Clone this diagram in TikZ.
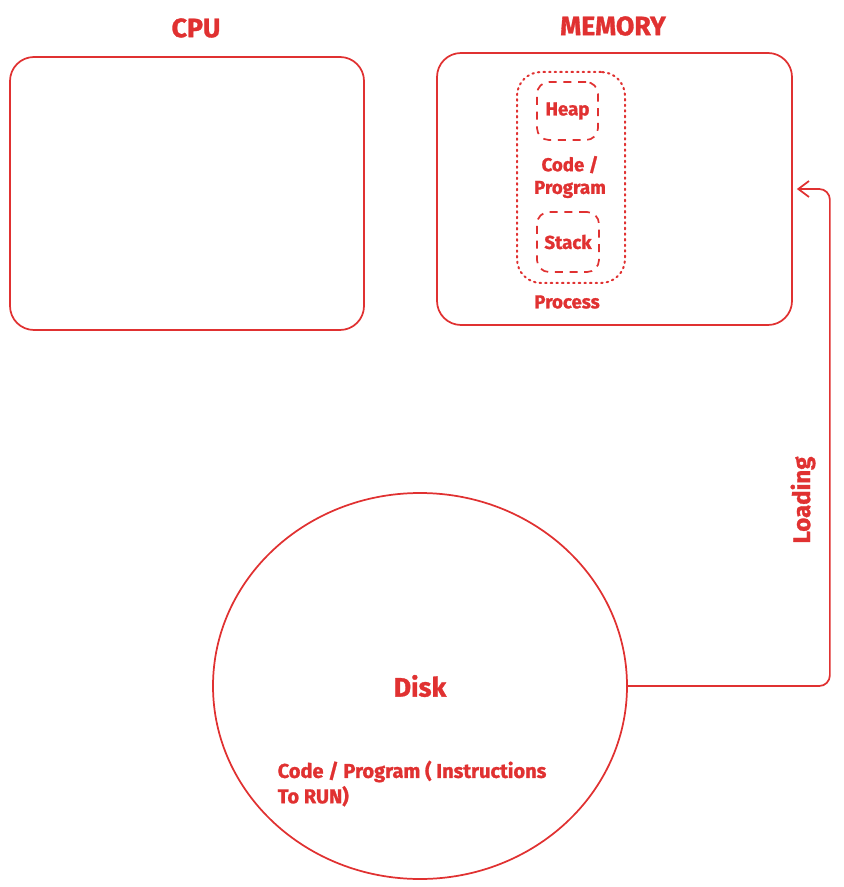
\documentclass[tikz,border=0pt]{standalone}
\usepackage{fontspec}
\setmainfont{Fira Sans}[BoldFeatures={FakeBold=1.2}]
\usetikzlibrary{shapes.geometric,arrows.meta}
\definecolor{sketchred}{HTML}{E03131}
\begin{document}
\begin{tikzpicture}[x=0.75pt, y=-0.75pt, >=stealth,
    every node/.style={text=sketchred, font=\bfseries},
    box/.style={draw=sketchred, line width=1.3pt, rounded corners=18pt, inner sep=0pt},
    partbox/.style={draw=sketchred, line width=1.3pt, dash pattern=on 6pt off 5pt, rounded corners=9pt, inner sep=0pt},
    title/.style={font=\bfseries\fontsize{20}{24}\selectfont},
    small/.style={font=\bfseries\fontsize{14}{17}\selectfont}]
    \useasboundingbox (0,0) rectangle (843,887);
    % boxes
    \node[box, minimum width=265.5pt, minimum height=204.75pt] (cpu) at (187,193.5) {};
    \node[box, minimum width=266.25pt, minimum height=204pt] (mem) at (614.5,189) {};
    \node[draw=sketchred, line width=1.5pt, dash pattern=on 1.2pt off 3pt, line cap=round,
        rounded corners=18pt, minimum width=81pt, minimum height=158.25pt] (proc) at (571,177.5) {};
    \node[partbox, small, minimum width=45.75pt, minimum height=43.5pt] (heap) at (567.5,111) {Heap};
    \node[partbox, small, minimum width=46.5pt, minimum height=45pt] (stack) at (568,242) {Stack};
    \node[draw=sketchred, line width=1.3pt, ellipse, inner sep=0pt, title,
        minimum width=310.5pt, minimum height=289.5pt] (disk) at (420,686) {Disk};
    % labels
    \node[title] (cpulbl) at (196,28) {CPU};
    \node[title] (memlbl) at (613,26) {MEMORY};
    \node[small, align=center] (code) at (570,177) {Code /\\Program};
    \node[small] (proclbl) at (567,302) {Process};
    \node[small, align=left, anchor=north west, font=\bfseries\fontsize{15}{19}\selectfont] (instr) at (273,756)
        {Code / Program ( Instructions\\To RUN)};
    \node[title, rotate=90, font=\bfseries\fontsize{18}{22}\selectfont] (load) at (803,500) {Loading};
    % loading arrow
    \draw[draw=sketchred, line width=1.3pt, rounded corners=8pt, -{Straight Barb[length=8pt, width=12pt]}]
        (disk.east) -- ++(202,0) |- ([xshift=3pt]mem.east);
\end{tikzpicture}
\end{document}
